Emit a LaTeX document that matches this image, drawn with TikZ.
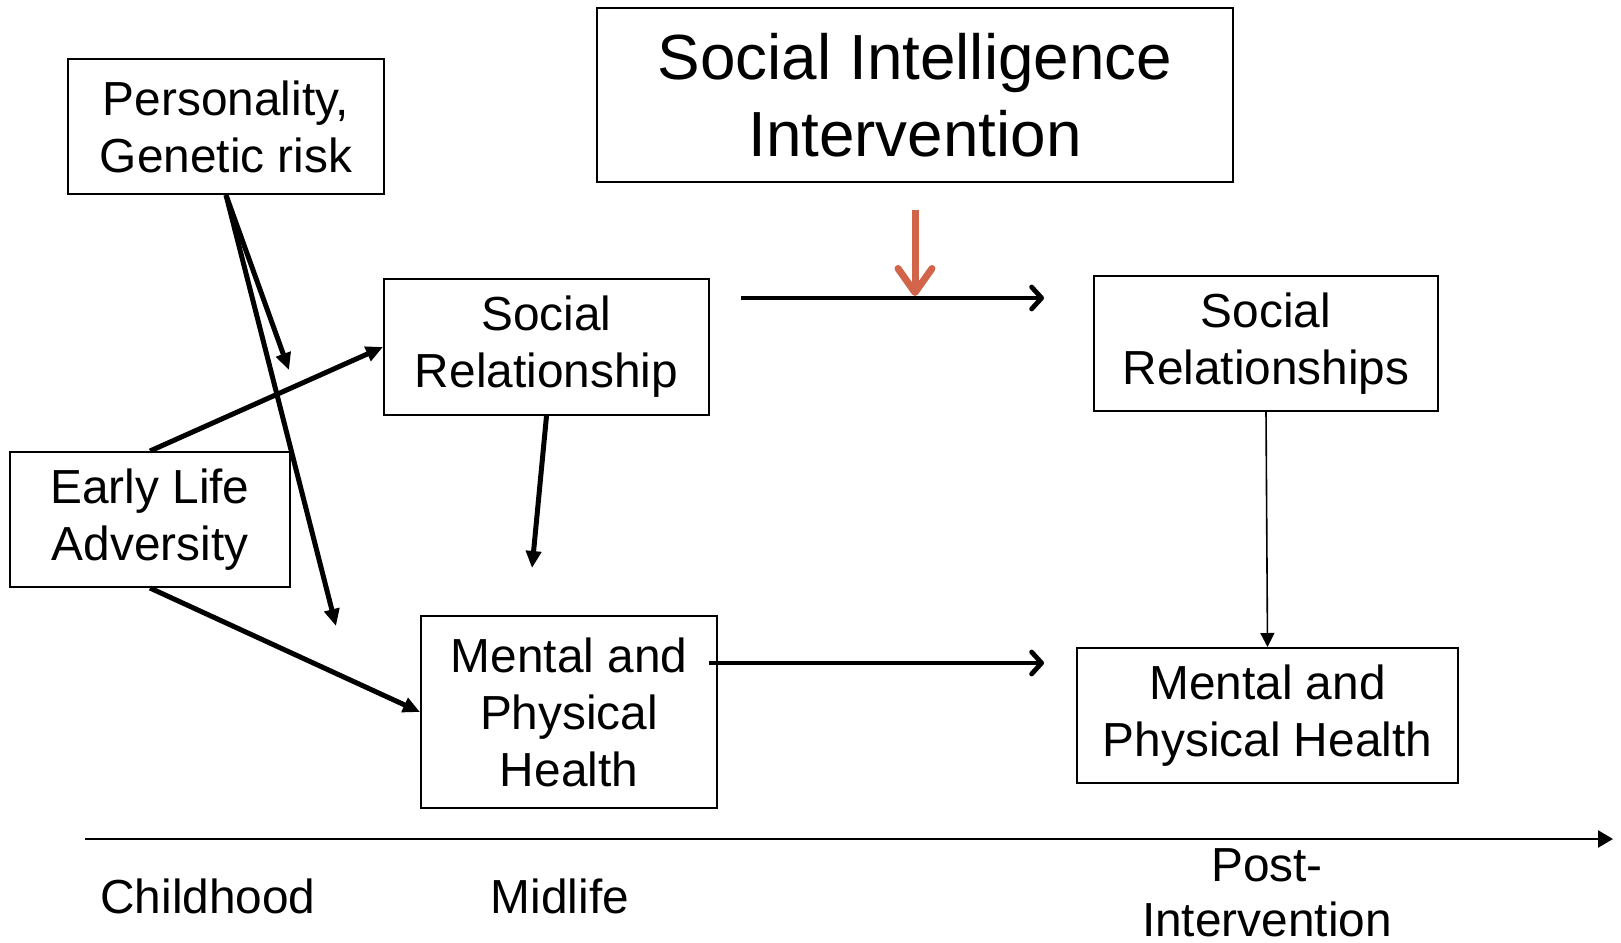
\documentclass[tikz,border=0pt]{standalone}
\usepackage{fontspec}
\setmainfont{Liberation Sans}
\usetikzlibrary{arrows.meta}
\definecolor{interv}{RGB}{210,100,74}
\tikzset{
  box/.style={draw, line width=2pt, align=center, inner sep=0pt,
    font=\fontsize{47.8}{57}\selectfont},
  bigbox/.style={box, font=\fontsize{63.8}{77}\selectfont},
  lbl/.style={align=center, inner sep=0pt, font=\fontsize{47.8}{55}\selectfont},
  heavy/.style={line width=5pt, -{Triangle[length=17pt,width=15pt]}},
  barb/.style={line width=4.8pt, -{Straight Barb[length=10pt,width=22pt,round]}},
  slim/.style={line width=1.6pt, -{Triangle[length=14pt,width=14pt]}}
}
\begin{document}
\begin{tikzpicture}[x=1pt,y=-1pt]
  %%%%% START %%%%%
  \useasboundingbox (0,0) rectangle (1621,942);

  \node[box, minimum width=316, minimum height=135] (pers) at (226,126.5) {Personality,\\Genetic risk};
  \node[bigbox, minimum width=636, minimum height=174] (sii) at (915,95) {Social Intelligence\\Intervention};
  \node[box, minimum width=325, minimum height=136] (srel) at (546.5,347) {Social\\Relationship};
  \node[box, minimum width=280, minimum height=135] (ela) at (150,519.5) {Early Life\\Adversity};
  \node[box, minimum width=296, minimum height=192] (mph) at (569,712) {Mental and\\Physical\\Health};
  \node[box, minimum width=344, minimum height=135] (srelpost) at (1266,343.5) {Social\\Relationships};
  \node[box, minimum width=381, minimum height=135] (mphpost) at (1267.5,715.5) {Mental and\\Physical Health};

  \coordinate (persA) at (289,370);
  \coordinate (persB) at (336,626);
  \coordinate (srelend) at (532,568);
  \coordinate (topL) at (741,298);
  \coordinate (topR) at (1044,298);
  \coordinate (midL) at (709,663);
  \coordinate (midR) at (1044,663);
  \coordinate (intvS) at (915,210);
  \coordinate (intvE) at (915,296);
  \coordinate (axL) at (85,839);
  \coordinate (axR) at (1613,839);

  % paths from childhood
  \draw[heavy] (pers.south) -- (persA);
  \draw[heavy] (pers.south) -- (persB);
  \draw[heavy] (ela.north) -- (srel.west);
  \draw[heavy] (ela.south) -- (mph.west);
  \draw[heavy] (srel.south) -- (srelend);

  % towards post-intervention
  \draw[barb] (topL) -- (topR);
  \draw[barb] (midL) -- (midR);
  \draw[interv, line width=7pt, -{Straight Barb[length=24pt,width=34pt,round]}] (intvS) -- (intvE);
  \draw[slim] (srelpost.south) -- (mphpost.north);

  % time axis
  \draw[line width=2.6pt, -{Triangle[length=15pt,width=17pt]}] (axL) -- (axR);
  \node[lbl] (child) at (208,896) {Childhood};
  \node[lbl] (mid) at (560,896) {Midlife};
  \node[lbl] (post) at (1267,892.5) {Post-\\Intervention};
  %%%%% END %%%%%
\end{tikzpicture}
\end{document}
